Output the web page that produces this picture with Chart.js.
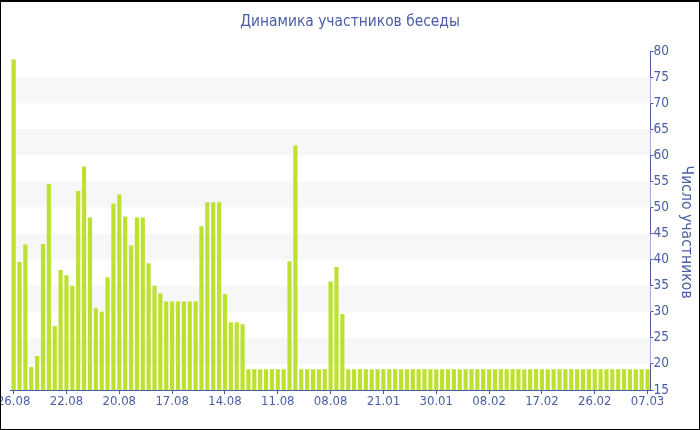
<!DOCTYPE html>
<html>
<head>
<meta charset="utf-8">
<script src="https://cdn.jsdelivr.net/npm/chart.js@4/dist/chart.umd.min.js"></script>
<style>
  html, body { margin: 0; padding: 0; background: #fff; }
  #frame { width: 700px; height: 430px; box-sizing: border-box; border: 1px solid #000; border-top-width: 2px; overflow: hidden; position: relative; }
  #wrap { width: 698px; height: 427px; position: relative; }
</style>
</head>
<body>
<div id="frame"><div id="wrap"><canvas id="c"></canvas></div></div>
<script>
const chartTitle = 'Динамика участников беседы';
const axisTitle = 'Число участников';
const tickLabels = ['26.08', '22.08', '20.08', '17.08', '14.08', '11.08', '08.08', '21.01', '30.01', '08.02', '17.02', '26.02', '07.03'];
const tickEvery = 9;
const values = [
  78.4, 39.6, 42.9, 19.4, 21.5, 43, 54.5, 27.3, 38, 37,
  35, 53.2, 57.9, 48.1, 30.7, 30, 36.6, 50.8, 52.5, 48.3,
  42.7, 48.1, 48.1, 39.3, 35, 33.5, 32, 32, 32, 32,
  32, 32, 46.4, 51, 51, 51, 33.4, 28, 28, 27.6,
  19, 19, 19, 19, 19, 19, 19, 39.7, 61.9, 19,
  19, 19, 19, 19, 35.8, 38.6, 29.6, 19, 19, 19,
  19, 19, 19, 19, 19, 19, 19, 19, 19, 19,
  19, 19, 19, 19, 19, 19, 19, 19, 19, 19,
  19, 19, 19, 19, 19, 19, 19, 19, 19, 19,
  19, 19, 19, 19, 19, 19, 19, 19, 19, 19,
  19, 19, 19, 19, 19, 19, 19, 19, 19
];
const categories = values.map((v, i) => (i % tickEvery === 0 ? tickLabels[i / tickEvery] : ''));
const bandStarts = [20, 30, 40, 50, 60, 70];

const BLUE = '#4a5ea6';
const FONT = "'DejaVu Sans Condensed', 'DejaVu Sans', sans-serif";

const bands = {
  id: 'bands',
  beforeDatasetsDraw(chart) {
    const { ctx, chartArea } = chart;
    const y = chart.scales.y;
    ctx.save();
    ctx.fillStyle = '#f7f7f7';
    bandStarts.forEach(v => {
      const top = y.getPixelForValue(v + 5);
      const bot = y.getPixelForValue(v);
      ctx.fillRect(chartArea.left, top, chartArea.right - chartArea.left, bot - top);
    });
    ctx.restore();
  }
};

// vertical axis title, placed like the reference (right of the value axis)
const sideTitle = {
  id: 'sideTitle',
  afterDraw(chart) {
    const { ctx, chartArea } = chart;
    const y = chart.scales.y;
    ctx.save();
    ctx.translate(y.right - 13, (chartArea.top + chartArea.bottom) / 2 + 11.5);
    ctx.rotate(Math.PI / 2);
    ctx.fillStyle = BLUE;
    ctx.font = "15.6px " + FONT;
    ctx.textAlign = 'center';
    ctx.textBaseline = 'middle';
    ctx.fillText(axisTitle, 0, 0);
    ctx.restore();
  }
};

new Chart(document.getElementById('c'), {
  type: 'bar',
  data: {
    labels: categories,
    datasets: [{
      data: values,
      backgroundColor: '#bde131',
      borderWidth: 0,
      barPercentage: 0.72,
      categoryPercentage: 1
    }]
  },
  options: {
    responsive: true,
    maintainAspectRatio: false,
    animation: false,
    layout: { padding: 0 },
    plugins: {
      legend: { display: false },
      tooltip: { enabled: false },
      title: {
        display: true,
        text: chartTitle,
        color: BLUE,
        font: { family: FONT, size: 15.4, weight: 'normal' },
        padding: { top: 10.3, bottom: 20.4 }
      }
    },
    scales: {
      x: {
        offset: true,
        grid: { display: true, drawOnChartArea: false, offset: false, tickLength: 4, color: BLUE },
        border: { display: true, color: BLUE, width: 1 },
        ticks: {
          autoSkip: false, maxRotation: 0, minRotation: 0, padding: 0,
          color: BLUE,
          font: { family: FONT, size: 13 },
          callback: (v, i) => (i % tickEvery === 0 ? categories[i] : null)
        },
        afterFit(s) { s.paddingLeft = 9.7; s.paddingRight = 0; s.height = 39; }
      },
      y: {
        position: 'right',
        min: 15, max: 80,
        grid: {
          display: true, drawOnChartArea: false, tickLength: 3,
          color: ctx => (ctx.tick && ctx.tick.value % 5 === 0 ? BLUE : '#999999')
        },
        border: { display: true, color: BLUE, width: 1 },
        ticks: {
          stepSize: 2.5, padding: 0,
          color: BLUE,
          font: { family: FONT, size: 13.5 },
          callback: v => (v % 5 === 0 ? String(v) : '')
        },
        title: { display: false, text: axisTitle },
        afterFit(s) { s.width = 48.5; }
      }
    }
  },
  plugins: [bands, sideTitle]
});
</script>
</body>
</html>
